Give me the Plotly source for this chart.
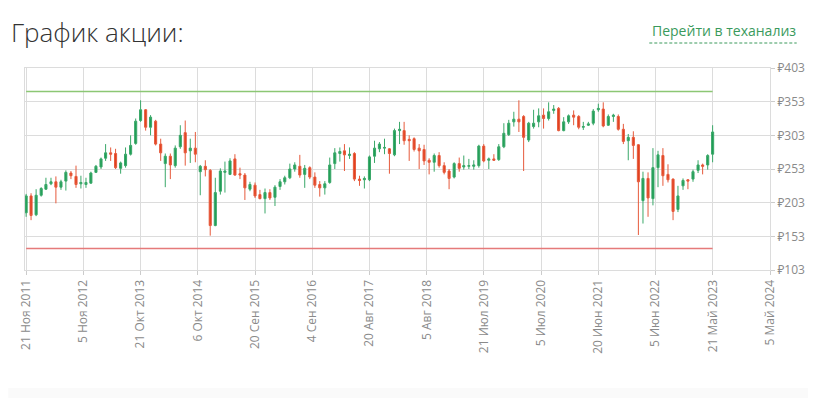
import pandas as pd
import plotly.graph_objects as go

# ---------------- data ----------------
start_date = "2011-11-21"
n_candles = 139
dates = [pd.Timestamp(start_date) + pd.DateOffset(months=i) for i in range(n_candles)]

open_ = [188, 213, 185, 214, 223, 231, 234, 226, 235, 247, 242, 231, 230, 232, 248, 256, 269, 277, 276, 254,
         258, 275, 291, 325, 341, 315, 324, 290, 261, 272, 258, 286, 307, 280, 284, 249, 257, 251, 169, 220,
         248, 245, 268, 246, 244, 223, 229, 215, 209, 218, 211, 227, 234, 240, 253, 257, 245, 255, 241, 230,
         225, 233, 261, 276, 280, 273, 276, 238, 237, 237, 272, 283, 284, 283, 274, 310, 310, 297, 298, 284,
         282, 266, 263, 273, 258, 250, 241, 261, 256, 257, 257, 258, 287, 266, 268, 267, 286, 304, 323, 327,
         331, 296, 316, 323, 333, 328, 340, 343, 310, 323, 333, 331, 315, 318, 321, 341, 342, 318, 331, 331,
         312, 295, 300, 289, 206, 239, 209, 255, 273, 245, 238, 193, 228, 237, 238, 251, 259, 259, 275]
high = [216, 217, 223, 226, 240, 240, 242, 237, 251, 250, 258, 243, 240, 249, 259, 270, 290, 285, 283, 264,
        285, 303, 328, 355, 342, 333, 326, 298, 276, 276, 288, 318, 325, 298, 308, 259, 266, 253, 240, 254,
        264, 269, 275, 255, 247, 234, 233, 222, 224, 223, 229, 238, 243, 261, 263, 274, 259, 257, 248, 235,
        235, 270, 284, 285, 290, 285, 278, 243, 242, 273, 295, 293, 298, 284, 313, 323, 323, 303, 300, 290,
        289, 269, 276, 278, 263, 253, 263, 270, 273, 268, 266, 289, 290, 270, 275, 290, 321, 326, 338, 355,
        333, 323, 341, 343, 343, 352, 348, 345, 330, 334, 340, 333, 323, 323, 342, 350, 352, 334, 335, 334,
        320, 305, 309, 290, 249, 248, 284, 280, 284, 260, 239, 228, 239, 238, 252, 266, 261, 275, 318]
low = [182, 177, 183, 212, 222, 229, 202, 222, 221, 238, 225, 224, 225, 231, 247, 253, 265, 265, 253, 246,
       255, 273, 289, 323, 310, 303, 288, 265, 226, 238, 255, 283, 258, 262, 263, 214, 242, 154, 168, 215,
       218, 244, 243, 238, 207, 220, 210, 208, 187, 207, 198, 222, 230, 238, 249, 240, 225, 238, 225, 212,
       215, 231, 253, 264, 250, 268, 235, 228, 224, 235, 262, 278, 275, 246, 272, 290, 289, 265, 279, 253,
       259, 245, 249, 255, 245, 223, 239, 249, 252, 253, 252, 255, 263, 253, 265, 265, 284, 302, 316, 308,
       250, 293, 313, 315, 313, 325, 335, 309, 309, 320, 318, 312, 311, 317, 318, 338, 315, 317, 323, 310,
       290, 266, 268, 155, 172, 182, 199, 226, 228, 233, 177, 189, 222, 223, 234, 247, 245, 252, 263]
close = [213, 184, 214, 224, 230, 234, 226, 234, 248, 243, 230, 233, 233, 247, 257, 268, 277, 275, 255, 262,
         275, 288, 324, 341, 315, 330, 290, 277, 272, 259, 284, 303, 277, 284, 275, 257, 252, 169, 218, 250,
         250, 265, 244, 244, 225, 230, 213, 209, 218, 210, 226, 234, 240, 253, 259, 244, 254, 241, 229, 225,
         231, 259, 277, 279, 274, 275, 238, 236, 239, 271, 284, 290, 285, 276, 310, 312, 295, 295, 282, 280,
         265, 263, 273, 258, 248, 239, 261, 254, 258, 258, 259, 287, 265, 268, 266, 286, 306, 321, 327, 323,
         300, 321, 321, 332, 328, 338, 342, 310, 323, 332, 330, 315, 316, 320, 339, 343, 317, 331, 333, 312,
         294, 300, 288, 234, 239, 210, 255, 274, 243, 237, 190, 213, 236, 235, 249, 259, 257, 273, 308]

resistance_level = 368
support_level = 135

y_tickvals = [103, 153, 203, 253, 303, 353, 403]
y_tick_labels = ["₽103", "₽153", "₽203", "₽253", "₽303", "₽353", "₽403"]
x_tick_start = "2011-11-21"
x_tick_labels = ["21 Ноя 2011", "5 Ноя 2012", "21 Окт 2013", "6 Окт 2014", "20 Сен 2015",
                 "4 Сен 2016", "20 Авг 2017", "5 Авг 2018", "21 Июл 2019", "5 Июл 2020",
                 "20 Июн 2021", "5 Июн 2022", "21 Май 2023", "5 Май 2024"]
x_tickvals = list(pd.date_range(x_tick_start, periods=len(x_tick_labels), freq="350D"))

# ---------------- figure ----------------
# page body has an 8px margin, so the figure is drawn 8px in from the window's edge
OFF = 8
W, H = 816 - OFF, 398 - OFF
ML, MR, MT, MB = 17 - OFF, 46, 68 - OFF, 128
PW, PH = W - ML - MR, H - MT - MB


def px_x(X):  # window pixel -> paper coordinate
    return (X - OFF - ML) / PW


def px_y(Y):
    return (H - MB - (Y - OFF)) / PH


GREEN = "#1f9d55"
RED = "#e2401f"
FONT = "Open Sans, Noto Sans, DejaVu Sans, sans-serif"

fig = go.Figure()
fig.add_trace(go.Candlestick(
    x=dates, open=open_, high=high, low=low, close=close,
    increasing=dict(line=dict(color="#3aa869", width=1), fillcolor=GREEN),
    decreasing=dict(line=dict(color="#e65a3c", width=1), fillcolor=RED),
    whiskerwidth=0,
    showlegend=False,
))

fig.add_shape(type="line", xref="x", yref="y", x0=dates[0], x1=dates[-1],
              y0=resistance_level, y1=resistance_level, line=dict(color="#8cc774", width=1.5))
fig.add_shape(type="line", xref="x", yref="y", x0=dates[0], x1=dates[-1],
              y0=support_level, y1=support_level, line=dict(color="#e57a7a", width=1.5))

# bottom light band
fig.add_shape(type="rect", xref="paper", yref="paper", x0=px_x(0), x1=px_x(830),
              y0=px_y(400), y1=px_y(388), line=dict(width=0), fillcolor="#fafafa", layer="below")

# link underline
fig.add_shape(type="line", xref="paper", yref="paper", x0=px_x(648), x1=px_x(797),
              y0=px_y(43), y1=px_y(43), line=dict(color="#3a9a5c", width=1, dash="3px,2px"))

fig.add_annotation(text="График акции:", xref="paper", yref="paper", x=px_x(1), y=px_y(32),
                   xanchor="left", yanchor="middle", showarrow=False,
                   font=dict(family=FONT, size=26, color="#333333", weight=300))
fig.add_annotation(text="Перейти в теханализ", xref="paper", yref="paper", x=px_x(798), y=px_y(30),
                   xanchor="right", yanchor="middle", showarrow=False,
                   font=dict(family=FONT, size=14, color="#3a9a5c"))

fig.update_layout(
    width=W, height=H,
    margin=dict(l=ML, r=MR, t=MT, b=MB),
    paper_bgcolor="white", plot_bgcolor="white",
    font=dict(family=FONT, size=12, color="#8a8a8a"),
    xaxis=dict(
        type="date",
        range=[pd.Timestamp("2011-11-14"), pd.Timestamp("2024-05-06")],
        rangeslider=dict(visible=False),
        tickvals=x_tickvals, ticktext=x_tick_labels, tickangle=-90,
        showgrid=True, gridcolor="#dcdcdc", gridwidth=1,
        ticks="outside", ticklen=4, tickcolor="#cccccc",
        showline=True, linecolor="#dcdcdc", mirror=True,
        tickfont=dict(family=FONT, size=12, color="#8a8a8a"),
        zeroline=False,
    ),
    yaxis=dict(
        side="right", range=[103, 403], tickvals=y_tickvals, ticktext=y_tick_labels,
        showgrid=True, gridcolor="#dcdcdc", gridwidth=1,
        ticks="outside", ticklen=4, tickcolor="#cccccc",
        showline=True, linecolor="#dcdcdc", mirror=True,
        tickfont=dict(family=FONT, size=12, color="#8a8a8a"),
        zeroline=False,
    ),
    boxgap=0.35,
)

fig.write_html("out.html")
